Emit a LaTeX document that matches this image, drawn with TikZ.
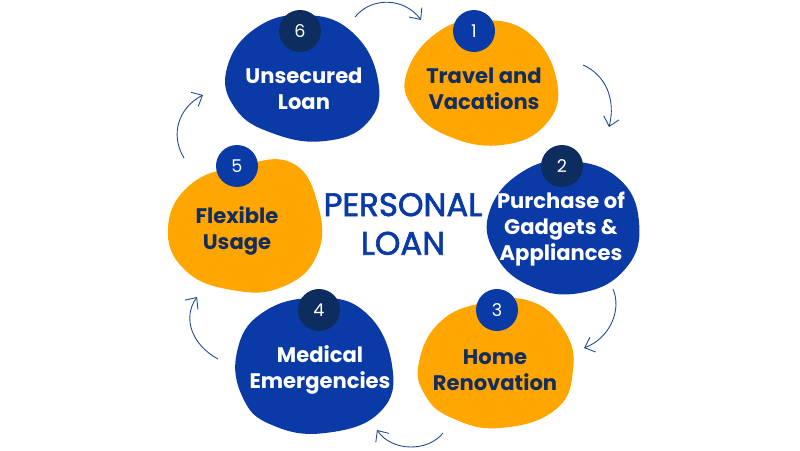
\documentclass[tikz,border=0pt]{standalone}
\usepackage{fontspec}
\setmainfont{Poppins}
\usetikzlibrary{arrows.meta}
\definecolor{loanblue}{RGB}{10,58,165}
\definecolor{loanorange}{RGB}{255,166,0}
\definecolor{loannavy}{RGB}{12,45,94}
\definecolor{loantext}{RGB}{20,45,95}
\definecolor{loanarrow}{RGB}{30,72,140}

\begin{document}
\begin{tikzpicture}[
  x=0.02cm, y=-0.02cm,
  every node/.style={font=\fontsize{12}{14.8}\selectfont\bfseries},
  %% blob label
  lbl/.style={align=center, text=#1, inner sep=0pt},
  lbl/.default=white,
  %% numbered badge on top of a blob
  badge/.style={circle, fill=#1, text=white, minimum size=0.84cm,
    inner sep=0pt, font=\fontsize{10}{12}\selectfont},
  badge/.default=loannavy,
  %% thin curved arrows between blobs
  arr/.style={-{Straight Barb[length=5pt,width=9pt]}, line width=0.5pt, loanarrow},
]
\useasboundingbox (0,0) rectangle (800,450);

%%── blobs ───────────────────────────────────────────────────────────────────
% 6 unsecured loan
\fill[loanblue] plot[smooth cycle, tension=0.75] coordinates
  {(227,68) (256,28) (305,15) (352,32) (378,80) (368,122) (325,141) (272,133) (235,108)};
% 1 travel and vacations
\fill[loanorange] plot[smooth cycle, tension=0.75] coordinates
  {(407,72) (438,32) (482,20) (530,34) (557,82) (546,124) (502,145) (448,136) (413,108)};
% 2 purchase of gadgets
\fill[loanblue] plot[smooth cycle, tension=0.75] coordinates
  {(490,210) (522,172) (568,161) (618,178) (639,222) (626,268) (580,293) (528,285) (494,252)};
% 3 home renovation
\fill[loanorange] plot[smooth cycle, tension=0.75] coordinates
  {(419,362) (440,322) (482,303) (530,301) (564,330) (573,370) (555,410) (500,428) (452,418) (425,395)};
% 4 medical emergencies
\fill[loanblue] plot[smooth cycle, tension=0.75] coordinates
  {(237,352) (262,313) (315,298) (365,312) (392,365) (380,412) (325,433) (272,425) (243,398)};
% 5 flexible usage
\fill[loanorange] plot[smooth cycle, tension=0.75] coordinates
  {(168,228) (190,185) (240,166) (292,163) (318,205) (317,255) (282,287) (232,290) (185,270)};

%%── badges ──────────────────────────────────────────────────────────────────
\node[badge] (n6) at (300,31) {6};
\node[badge=loanblue] (n1) at (474,31) {1};
\node[badge] (n2) at (562,166) {2};
\node[badge=loanblue] (n3) at (497,310) {3};
\node[badge] (n4) at (319,310) {4};
\node[badge=loanblue] (n5) at (237,166) {5};

%%── labels ──────────────────────────────────────────────────────────────────
\node[lbl] (t6) at (304,89) {Unsecured\\Loan};
\node[lbl=loantext] (t1) at (484,89) {Travel and\\Vacations};
\node[lbl] (t2) at (561,229) {Purchase of\\Gadgets \&\\Appliances};
\node[lbl=loantext] (t3) at (495,370) {Home\\Renovation};
\node[lbl] (t4) at (320,370) {Medical\\Emergencies};
\node[lbl=loantext] (t5) at (237,231) {Flexible\\Usage};

\node[align=center, text=loanblue, inner sep=0pt,
      font=\fontsize{18.5}{22}\selectfont\addfontfeature{FakeBold=2}] (title)
  at (403,224) {PERSONAL\\LOAN};

%%── arrows ──────────────────────────────────────────────────────────────────
\coordinate (a61) at (355,17);  \coordinate (b61) at (421,20);
\coordinate (a12) at (583,65);  \coordinate (b12) at (609,127);
\coordinate (a23) at (613,289); \coordinate (b23) at (584,348);
\coordinate (a34) at (443,433); \coordinate (b34) at (377,430);
\coordinate (a45) at (218,359); \coordinate (b45) at (197,297);
\coordinate (a56) at (184,158); \coordinate (b56) at (203,95);

\draw[arr] (a61) .. controls (372,-4) and (405,-2) .. (b61);
\draw[arr] (a12) .. controls (606,75) and (616,100) .. (b12);
\draw[arr] (a23) .. controls (622,310) and (610,338) .. (b23);
\draw[arr] (a34) .. controls (428,452) and (392,452) .. (b34);
\draw[arr] (a45) .. controls (192,345) and (182,318) .. (b45);
\draw[arr] (a56) .. controls (170,135) and (178,108) .. (b56);
\end{tikzpicture}
\end{document}
